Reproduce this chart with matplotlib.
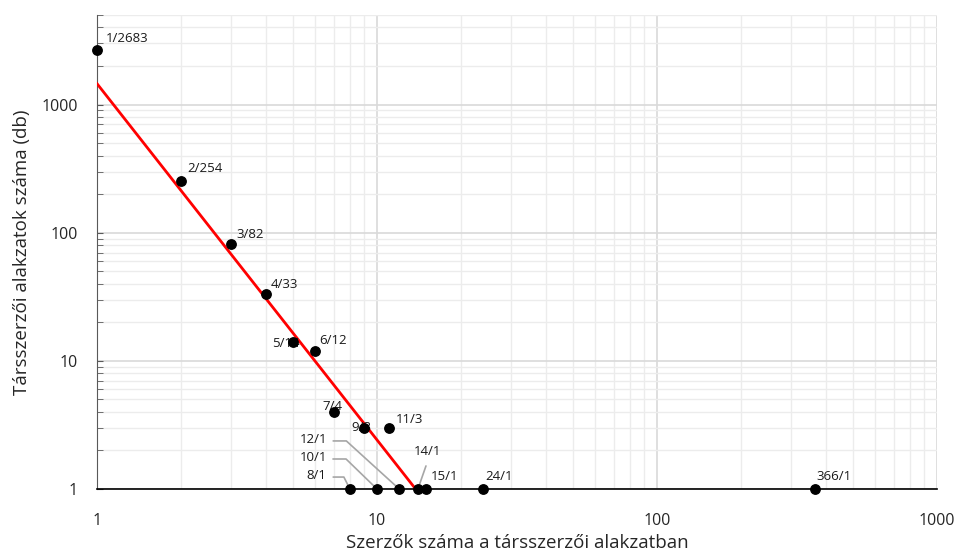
import numpy as np
import matplotlib.pyplot as plt
from matplotlib.ticker import LogLocator, NullFormatter, FixedLocator, FixedFormatter

plt.rcParams['font.family'] = ['Open Sans', 'DejaVu Sans']

# data: number of authors / number of co-author patterns
authors = [1, 2, 3, 4, 5, 6, 7, 8, 9, 10, 11, 12, 14, 15, 24, 366]
counts = [2683, 254, 82, 33, 14, 12, 4, 1, 3, 1, 3, 1, 1, 1, 1, 1]

# fitted power law y = a * x^b
fit_a = 1456
fit_b = -2.78

fig = plt.figure(figsize=(9.6, 5.56), dpi=100)
ax = fig.add_axes([97 / 960, 67 / 556, 840 / 960, 474 / 556])

ax.set_xscale('log')
ax.set_yscale('log')
ax.set_xlim(1, 1000)
ax.set_ylim(1, 5000)

# grid
ax.grid(True, which='major', color='#d9d9d9', linewidth=1.2)
ax.grid(True, which='minor', color='#ececec', linewidth=1.0)
ax.set_axisbelow(True)

# fit line
x_end = (1 / fit_a) ** (1 / fit_b)
xf = np.logspace(0, np.log10(x_end), 50)
ax.plot(xf, fit_a * xf ** fit_b, color='#ff0000', linewidth=2, zorder=3)

ax.scatter(authors, counts, s=46, color='black', zorder=5, clip_on=False)

lbl_size = 9.5

# point labels: (dx, dy, ha) offsets in points
label_off = {
    1: (6.5, 8, 'left'), 2: (4, 9, 'left'), 3: (4, 7, 'left'), 4: (4, 7, 'left'),
    5: (5, -1, 'right'), 6: (3, 7, 'left'), 7: (6, 4, 'right'), 9: (5, 0, 'right'),
    11: (5, 6, 'left'), 15: (3, 9, 'left'), 24: (1, 9, 'left'), 366: (1.5, 9, 'left'),
}
for x, y in zip(authors, counts):
    if x in label_off:
        dx, dy, ha = label_off[x]
        ax.annotate(f'{x}/{y}', (x, y), xytext=(dx, dy), textcoords='offset points',
                    ha=ha, va='center', fontsize=lbl_size, color='#1a1a1a', zorder=4)

# labels with leader lines: (text right edge, line start, knee x, knee y) in points
leader = {8: (-17, -12, -4.3, 8.6), 10: (-36, -31.7, -22.3, 21.6), 12: (-52, -47.5, -38, 34.6)}
for x, (tx, lx, kx, ky) in leader.items():
    ax.annotate(f'{x}/1', (x, 1), xytext=(tx, ky + 1), textcoords='offset points',
                ha='right', va='center', fontsize=lbl_size, color='#1a1a1a', zorder=4)
    ang = np.degrees(np.arctan2(ky, kx))
    ax.annotate('', (x, 1), xytext=(lx, ky), textcoords='offset points',
                arrowprops=dict(arrowstyle='-', color='#a6a6a6', linewidth=1.2,
                                connectionstyle=f'angle,angleA=0,angleB={ang:.1f},rad=0',
                                shrinkA=0, shrinkB=2), zorder=2)
ax.annotate('14/1', (14, 1), xytext=(-3, 27), textcoords='offset points',
            ha='left', va='center', fontsize=lbl_size, color='#1a1a1a', zorder=4)
ax.annotate('', (14, 1), xytext=(5.8, 16.6), textcoords='offset points',
            arrowprops=dict(arrowstyle='-', color='#a6a6a6', linewidth=1.2,
                            shrinkA=0, shrinkB=2), zorder=2)

# axes styling
ax.spines['top'].set_visible(False)
ax.spines['right'].set_visible(False)
ax.spines['left'].set_color('#595959')
ax.spines['bottom'].set_color('black')
ax.spines['bottom'].set_linewidth(1.2)

ax.xaxis.set_major_locator(FixedLocator([1, 10, 100, 1000]))
ax.xaxis.set_major_formatter(FixedFormatter(['1', '10', '100', '1000']))
ax.xaxis.set_minor_locator(LogLocator(base=10, subs=np.arange(2, 10), numticks=20))
ax.xaxis.set_minor_formatter(NullFormatter())
ax.tick_params(axis='x', which='both', length=0, pad=17, labelsize=11.5, colors='#262626')

ax.yaxis.set_major_locator(FixedLocator([1, 10, 100, 1000]))
ax.yaxis.set_major_formatter(FixedFormatter(['1', '10', '100', '1000']))
ax.yaxis.set_minor_locator(LogLocator(base=10, subs=np.arange(2, 10), numticks=20))
ax.yaxis.set_minor_formatter(NullFormatter())
ax.tick_params(axis='y', which='major', direction='in', length=4, color='#595959',
               pad=14, labelsize=11.5, labelcolor='#262626')
ax.tick_params(axis='y', which='minor', direction='in', length=4, color='#595959')

ax.set_xlabel('Szerzők száma a társszerzői alakzatban', fontsize=13.5, color='#262626', labelpad=4)
ax.set_ylabel('Társszerzői alakzatok száma (db)', fontsize=13.5, color='#262626', labelpad=7)

fig.savefig('out.png', dpi=100)
